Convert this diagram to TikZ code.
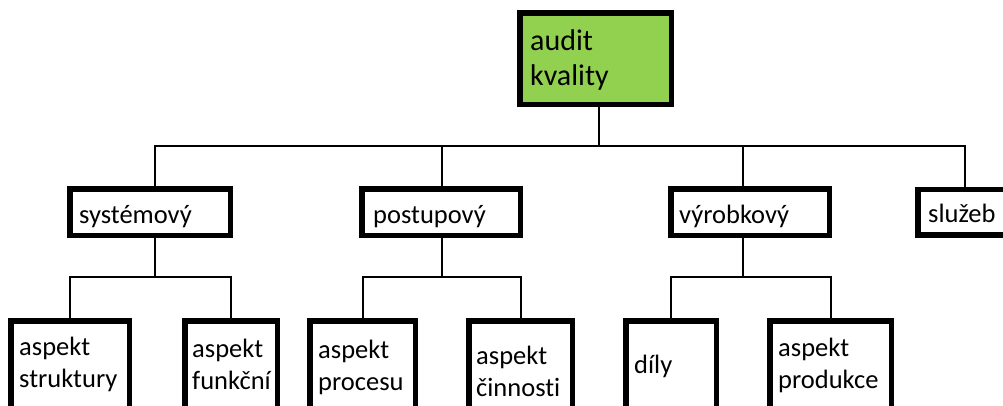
\documentclass[tikz,border=0pt]{standalone}
\usepackage{fontspec}
\setmainfont[Ligatures=NoCommon]{Carlito}
\definecolor{auditgreen}{HTML}{92D050}
% two left-aligned lines whose baseline is that of the first line
\newcommand\twolines[2]{\begin{tabular}[t]{@{}l@{}}#1\\#2\end{tabular}}

\begin{document}
\begin{tikzpicture}[x=1pt,y=-1pt,
  box/.style={draw, rectangle, line width=5.5pt, inner sep=0pt, outer sep=0pt},
  conn/.style={line width=2pt},
  lbl/.style={anchor=base west, inner sep=0pt, font=\fontsize{26.5}{32}\selectfont},
  toplbl/.style={anchor=base west, inner sep=0pt, font=\fontsize{30}{35}\selectfont}]
\useasboundingbox (0,0) rectangle (1003,405);
\clip (0,0) rectangle (1003,405);

% root
\node[box, fill=auditgreen, minimum width=151.5pt, minimum height=91.5pt] (audit) at (595.5,58.5) {};

% second level
\node[box, minimum width=160.5pt, minimum height=46.5pt] (sys)  at (150,212) {};
\node[box, minimum width=158.5pt, minimum height=46.5pt] (post) at (441,212) {};
\node[box, minimum width=158.5pt, minimum height=46.5pt] (vyr)  at (750,212) {};
\node[box, minimum width=94.5pt,  minimum height=45.5pt] (sluz) at (965,212) {};

% third level
\node[box, minimum width=118.5pt, minimum height=146.5pt] (str)  at (70,394) {};
\node[box, minimum width=92.5pt,  minimum height=146.5pt] (fun)  at (231,394) {};
\node[box, minimum width=105.5pt, minimum height=146.5pt] (proc) at (362.5,394) {};
\node[box, minimum width=103.5pt, minimum height=146.5pt] (cin)  at (520.5,394) {};
\node[box, minimum width=90.5pt,  minimum height=146.5pt] (dil)  at (671,394) {};
\node[box, minimum width=121.5pt, minimum height=146.5pt] (prod) at (830.5,394) {};

% junction points of the connector buses
\coordinate (j0)    at (599,146);
\coordinate (jsys)  at (155,277);
\coordinate (jpost) at (442,277);
\coordinate (jvyr)  at (743,277);

% connectors
\draw[conn] (audit.south -| j0) -- (j0);
\draw[conn] (sys.north -| jsys) |- (j0);
\draw[conn] (post.north -| jpost) |- (j0);
\draw[conn] (vyr.north -| jvyr) |- (j0);
\draw[conn] (sluz.north) |- (j0);

\draw[conn] (sys.south -| jsys) -- (jsys);
\draw[conn] (str.north) |- (jsys);
\draw[conn] (fun.north) |- (jsys);

\draw[conn] (post.south -| jpost) -- (jpost);
\draw[conn] (proc.north) |- (jpost);
\draw[conn] (cin.north) |- (jpost);

\draw[conn] (vyr.south -| jvyr) -- (jvyr);
\draw[conn] (dil.north) |- (jvyr);
\draw[conn] (prod.north) |- (jvyr);

% labels
\node[toplbl] (t-audit) at (530,50) {\twolines{audit}{kvality}};
\node[lbl] (t-sys)  at (79,223)  {systémový};
\node[lbl] (t-post) at (373,223) {postupový};
\node[lbl] (t-vyr)  at (679,223) {výrobkový};
\node[lbl] (t-sluz) at (928,222) {služeb};
\node[lbl] (t-str)  at (19,355)  {\twolines{aspekt}{struktury}};
\node[lbl] (t-fun)  at (192,357) {\twolines{aspekt}{funkční}};
\node[lbl] (t-proc) at (318,358) {\twolines{aspekt}{procesu}};
\node[lbl] (t-cin)  at (476,364) {\twolines{aspekt}{činnosti}};
\node[lbl] (t-dil)  at (634,373) {díly};
\node[lbl] (t-prod) at (778,356) {\twolines{aspekt}{produkce}};
\end{tikzpicture}
\end{document}
